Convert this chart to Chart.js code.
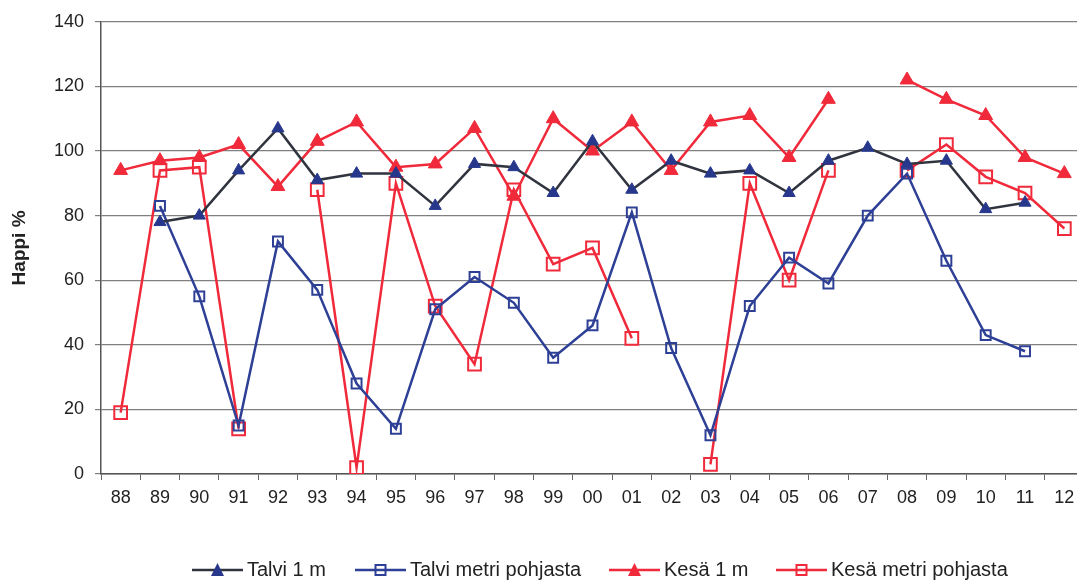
<!DOCTYPE html>
<html>
<head>
<meta charset="utf-8">
<script src="https://cdn.jsdelivr.net/npm/chart.js@4"></script>
<style>
  html, body { margin: 0; padding: 0; background: #fff; overflow: hidden; }
  #wrap { position: relative; width: 1077px; height: 580px; overflow: hidden; }
  #happiChart { position: absolute; left: 0; top: 0; }
  #legend { position: absolute; left: 0; top: 557px; width: 1077px; height: 24px;
            font-family: 'Liberation Sans', Arial, sans-serif; font-size: 20px; color: #222; }
  #legend span.item { position: absolute; top: 0; white-space: nowrap; line-height: 24px; }
  #legend canvas { vertical-align: -2px; margin-right: 4px; }
</style>
</head>
<body>
<div id="wrap">
  <canvas id="happiChart" width="1095" height="580"></canvas>
  <div id="legend"></div>
</div>
<script>
// years 1988 - 2012
const years = ['88','89','90','91','92','93','94','95','96','97','98','99','00','01','02','03','04','05','06','07','08','09','10','11','12'];

const talvi1m = [null, 78, 80, 94, 107, 91, 93, 93, 83, 96, 95, 87, 103, 88, 97, 93, 94, 87, 97, 101, 96, 97, 82, 84, null];
const talviPohja = [null, 83, 55, 15, 72, 57, 28, 14, 51, 61, 53, 36, 46, 81, 39, 12, 52, 67, 59, 80, 93, 66, 43, 38, null];
const kesa1m = [94, 97, 98, 102, 89, 103, 109, 95, 96, 107, 86, 110, 100, 109, 94, 109, 111, 98, 116, null, 122, 116, 111, 98, 93];
const kesaPohja = [19, 94, 95, 14, null, 88, 2, 90, 52, 34, 88, 65, 70, 42, null, 3, 90, 60, 94, null, 94, 102, 92, 87, 76];

const yTicks = [0, 20, 40, 60, 80, 100, 120, 140];

const NAVY = '#27388c';
const DARK = '#30343f';
const BLUE = '#2e3f96';
const RED = '#f02a3a';
const FONT = 'Liberation Sans, Arial, sans-serif';

// legend item left edges
const legendLeft = [192, 355, 609, 776];

// small legend icon: line with marker in the middle
function legendIcon(lineColor, markColor, kind) {
    const c = document.createElement('canvas');
    c.width = 51; c.height = 16;
    const g = c.getContext('2d');
    g.strokeStyle = lineColor;
    g.lineWidth = 2.5;
    g.beginPath(); g.moveTo(0, 8); g.lineTo(51, 8); g.stroke();
    if (kind === 'tri') {
        g.fillStyle = markColor;
        g.beginPath(); g.moveTo(25.5, 1); g.lineTo(32, 14); g.lineTo(19, 14); g.closePath(); g.fill();
    } else {
        g.strokeStyle = markColor;
        g.lineWidth = 2;
        g.strokeRect(20.5, 3, 10, 10);
    }
    return c;
}

const ctx = document.getElementById('happiChart').getContext('2d');

const chart = new Chart(ctx, {
    type: 'line',
    data: {
        labels: years,
        datasets: [
            {
                label: 'Talvi 1 m',
                data: talvi1m,
                borderColor: DARK,
                backgroundColor: NAVY,
                pointBorderColor: NAVY,
                pointStyle: 'triangle',
                pointRadius: 7,
                borderWidth: 2.5,
                pointBorderWidth: 1
            },
            {
                label: 'Talvi metri pohjasta',
                data: talviPohja,
                borderColor: BLUE,
                backgroundColor: 'rgba(255,255,255,0)',
                pointBorderColor: BLUE,
                pointStyle: 'rect',
                pointRadius: 7,
                borderWidth: 2.5,
                pointBorderWidth: 2
            },
            {
                label: 'Kesä 1 m',
                data: kesa1m,
                borderColor: RED,
                backgroundColor: RED,
                pointBorderColor: RED,
                pointStyle: 'triangle',
                pointRadius: 8,
                borderWidth: 2.5,
                pointBorderWidth: 1
            },
            {
                label: 'Kesä metri pohjasta',
                data: kesaPohja,
                borderColor: RED,
                backgroundColor: 'rgba(255,255,255,0)',
                pointBorderColor: RED,
                pointStyle: 'rect',
                pointRadius: 9,
                borderWidth: 2.5,
                pointBorderWidth: 2
            }
        ]
    },
    options: {
        responsive: false,
        animation: false,
        spanGaps: false,
        layout: { padding: { top: 19, right: 0, left: 8, bottom: 56 } },
        plugins: {
            tooltip: { enabled: false },
            legend: { display: false }
        },
        scales: {
            x: {
                offset: true,
                grid: {
                    display: true,
                    offset: true,
                    drawOnChartArea: false,
                    drawTicks: true,
                    tickLength: 6,
                    color: '#666'
                },
                border: { color: '#555', width: 1.5 },
                ticks: {
                    color: '#222',
                    padding: 7,
                    maxRotation: 0,
                    autoSkip: false,
                    font: { family: FONT, size: 18 }
                },
                afterFit: function (scale) { scale.height = 50; }
            },
            y: {
                min: 0,
                max: 140,
                afterBuildTicks: function (scale) {
                    scale.ticks = yTicks.map(function (v) { return { value: v }; });
                },
                grid: {
                    color: '#808080',
                    lineWidth: 1.2,
                    tickLength: 6
                },
                border: { color: '#555', width: 1.5 },
                ticks: {
                    color: '#222',
                    padding: 11,
                    font: { family: FONT, size: 18 }
                },
                title: {
                    display: true,
                    text: 'Happi %',
                    color: '#222',
                    padding: { top: 0, bottom: 10 },
                    font: { family: FONT, size: 19, weight: 'bold' }
                },
                afterFit: function (scale) { scale.width = 93; }
            }
        }
    }
});

// HTML legend built from the datasets
const legendDiv = document.getElementById('legend');
const kinds = ['tri', 'sq', 'tri', 'sq'];
chart.data.datasets.forEach(function (ds, i) {
    const item = document.createElement('span');
    item.className = 'item';
    item.style.left = legendLeft[i] + 'px';
    item.appendChild(legendIcon(ds.borderColor, ds.pointBorderColor, kinds[i]));
    item.appendChild(document.createTextNode(ds.label));
    legendDiv.appendChild(item);
});
</script>
</body>
</html>
